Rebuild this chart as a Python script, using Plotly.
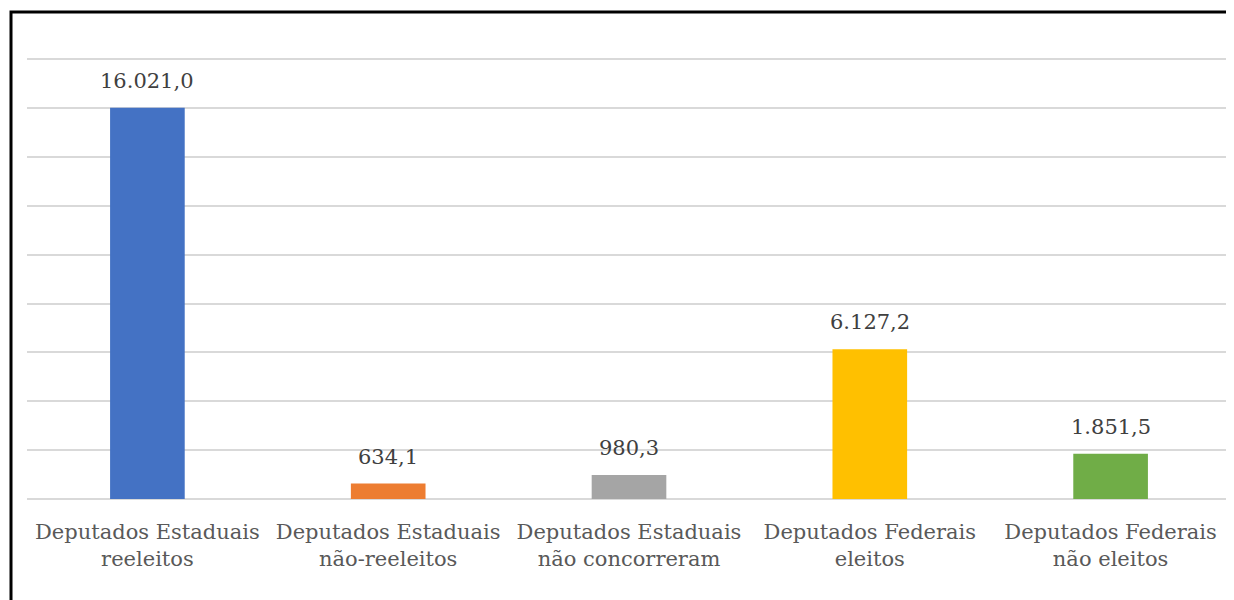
import plotly.graph_objects as go

categories = ["Deputados Estaduais<br>reeleitos", "Deputados Estaduais<br>não-reeleitos",
              "Deputados Estaduais<br>não concorreram", "Deputados Federais<br>eleitos",
              "Deputados Federais<br>não eleitos"]
values = [16021.0, 634.1, 980.3, 6127.2, 1851.5]
colors = ["#4472C4", "#ED7D31", "#A5A5A5", "#FFC000", "#70AD47"]

FONT = "DejaVu Serif"


def fmt_pt(v):
    return f"{v:,.1f}".replace(",", "X").replace(".", ",").replace("X", ".")


fig = go.Figure(go.Bar(x=categories, y=values, marker_color=colors, marker_line_width=0,
                       hoverinfo="skip"))

for c, v in zip(categories, values):
    fig.add_annotation(x=c, y=v, text=fmt_pt(v), showarrow=False, yanchor="bottom", yshift=13,
                       font=dict(family=FONT, size=21, color="#404040"))

fig.update_layout(
    width=1226, height=592,
    margin=dict(l=19, r=3, t=49, b=101),
    plot_bgcolor="white", paper_bgcolor="white",
    bargap=0.69, showlegend=False,
    xaxis=dict(showgrid=False, showline=False, ticks="", ticklabelstandoff=18,
               tickfont=dict(family=FONT, size=21, color="#595959")),
    yaxis=dict(range=[0, 18100], tickvals=list(range(2000, 18001, 2000)), showgrid=True,
               gridcolor="#D9D9D9", gridwidth=1.5,
               showticklabels=False, zeroline=True, zerolinecolor="#D9D9D9", zerolinewidth=1.5,
               showline=False, ticks=""),
    shapes=[dict(type="rect", xref="paper", yref="paper", x0=(3 - 19) / 1204, x1=1.2,
                 y0=-0.6, y1=1 + (49 - 4) / 442, line=dict(color="black", width=3))],
)

fig.write_html("out.html")
